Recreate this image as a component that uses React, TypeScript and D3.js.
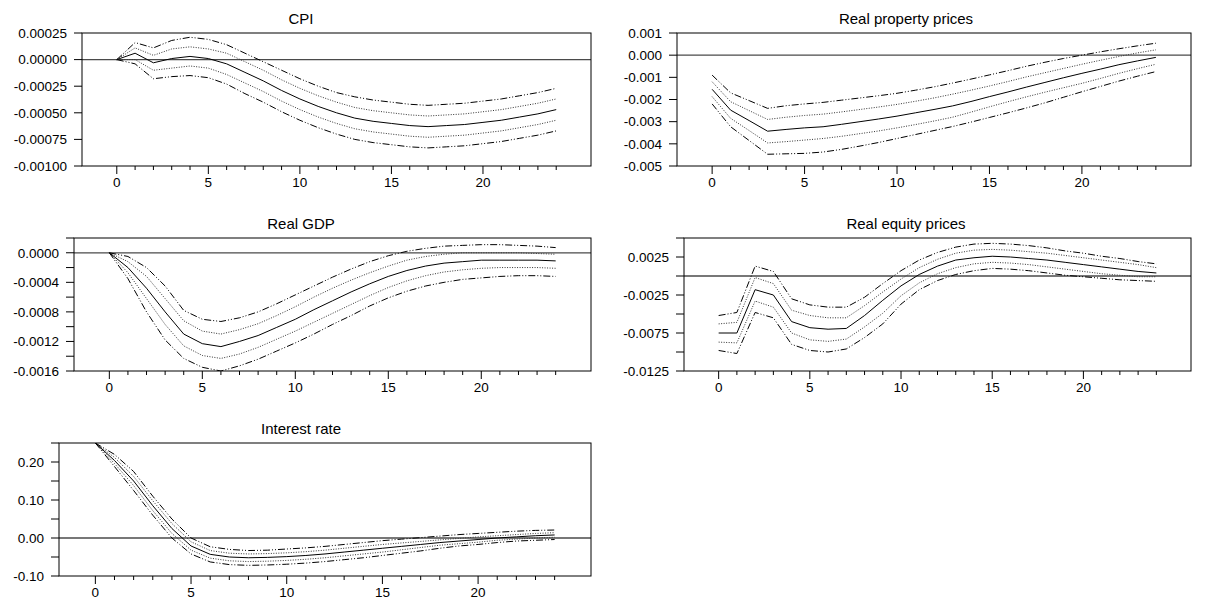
import React from "react";
import * as d3 from "d3";

const horizons = [0, 1, 2, 3, 4, 5, 6, 7, 8, 9, 10, 11, 12, 13, 14, 15, 16, 17, 18, 19, 20, 21, 22, 23, 24];
const xMajorTicks = [0, 5, 10, 15, 20];
const xMinorTicks = [0, 1, 2, 3, 4, 5, 6, 7, 8, 9, 10, 11, 12, 13, 14, 15, 16, 17, 18, 19, 20, 21, 22, 23, 24];

// CPI
const cpiMid = [0, 0.00006, -0.00003, 0.00001, 0.00003, 0.00001, -0.00004, -0.00012, -0.0002, -0.00029, -0.00037, -0.00044, -0.0005, -0.00055, -0.00058, -0.0006, -0.00062, -0.00063, -0.00062, -0.00061, -0.00059, -0.00057, -0.00054, -0.00051, -0.00047];
const cpiDotHi = [0, 0.00011, 0.00004, 0.0001, 0.00012, 0.0001, 0.00006, -0.00002, -0.0001, -0.00019, -0.00027, -0.00034, -0.0004, -0.00045, -0.00048, -0.0005, -0.00052, -0.00053, -0.00052, -0.00051, -0.00049, -0.00047, -0.00044, -0.00041, -0.00037];
const cpiDotLo = [0, 0.0, -0.0001, -0.00008, -0.00006, -0.00008, -0.00014, -0.00022, -0.0003, -0.00039, -0.00047, -0.00054, -0.0006, -0.00065, -0.00068, -0.0007, -0.00072, -0.00073, -0.00072, -0.00071, -0.00069, -0.00067, -0.00064, -0.00061, -0.00057];
const cpiDashHi = [0, 0.00016, 0.00011, 0.00018, 0.00021, 0.00019, 0.00014, 0.00006, -0.00002, -0.0001, -0.00018, -0.00025, -0.00031, -0.00035, -0.00038, -0.0004, -0.00042, -0.00043, -0.00042, -0.00041, -0.00039, -0.00037, -0.00034, -0.00031, -0.00027];
const cpiDashLo = [0, -0.00004, -0.00018, -0.00016, -0.00015, -0.00017, -0.00023, -0.00032, -0.0004, -0.00049, -0.00057, -0.00064, -0.0007, -0.00075, -0.00078, -0.0008, -0.00082, -0.00083, -0.00082, -0.00081, -0.00079, -0.00077, -0.00074, -0.00071, -0.00067];

// Real property prices
const propMid = [-0.00154, -0.00248, -0.00295, -0.00343, -0.00335, -0.00328, -0.00323, -0.00312, -0.003, -0.00288, -0.00275, -0.0026, -0.00245, -0.00229, -0.00209, -0.00187, -0.00166, -0.00144, -0.00123, -0.00102, -0.00082, -0.00063, -0.00043, -0.00026, -0.0001];
const propDotHi = [-0.0012, -0.0021, -0.0025, -0.0029, -0.0028, -0.00272, -0.00266, -0.00256, -0.00245, -0.00234, -0.00222, -0.00208, -0.00193, -0.00176, -0.00158, -0.00139, -0.00119, -0.00098, -0.00079, -0.0006, -0.00041, -0.00023, -0.00006, 0.0001, 0.00024];
const propDotLo = [-0.00187, -0.00285, -0.0034, -0.00396, -0.0039, -0.00383, -0.00376, -0.00366, -0.00354, -0.00342, -0.00328, -0.00313, -0.00297, -0.0028, -0.00257, -0.00233, -0.0021, -0.00188, -0.00167, -0.00147, -0.00127, -0.00105, -0.00082, -0.00061, -0.00041];
const propDashHi = [-0.0009, -0.0017, -0.00205, -0.0024, -0.00228, -0.0022, -0.00213, -0.00203, -0.00193, -0.00183, -0.00172, -0.00158, -0.00143, -0.00126, -0.00108, -0.00089, -0.0007, -0.0005, -0.00032, -0.00015, 0.0, 0.00015, 0.00029, 0.00042, 0.00054];
const propDashLo = [-0.0022, -0.00323, -0.00385, -0.00447, -0.00445, -0.00443, -0.00437, -0.00425, -0.0041, -0.00394, -0.00376, -0.00358, -0.0034, -0.00322, -0.00302, -0.00281, -0.0026, -0.00238, -0.00215, -0.0019, -0.00165, -0.00141, -0.00117, -0.00095, -0.00074];

// Real GDP
const gdpMid = [0, -0.0002, -0.00048, -0.0008, -0.0011, -0.00123, -0.00127, -0.0012, -0.00112, -0.00101, -0.0009, -0.00077, -0.00065, -0.00053, -0.00042, -0.00032, -0.00024, -0.00018, -0.00014, -0.00012, -0.0001, -0.0001, -0.0001, -0.0001, -0.00011];
const gdpDotHi = [0, -0.00012, -0.00032, -0.00062, -0.00092, -0.00106, -0.0011, -0.00104, -0.00096, -0.00085, -0.00073, -0.0006, -0.00048, -0.00037, -0.00027, -0.00018, -0.0001, -0.00005, -0.00002, 0.0, 0.0, 0.0, 0.0, -0.00001, -0.00002];
const gdpDotLo = [0, -0.00027, -0.00062, -0.00097, -0.00126, -0.00139, -0.00143, -0.00137, -0.00128, -0.00117, -0.00106, -0.00094, -0.00082, -0.0007, -0.00058, -0.00047, -0.00038, -0.00031, -0.00026, -0.00023, -0.00021, -0.0002, -0.0002, -0.0002, -0.00021];
const gdpDashHi = [0, -0.00005, -0.0002, -0.00045, -0.00078, -0.0009, -0.00093, -0.00088, -0.0008, -0.00069, -0.00057, -0.00045, -0.00033, -0.00022, -0.00012, -0.00004, 0.00002, 0.00006, 0.00009, 0.0001, 0.00011, 0.00011, 0.0001, 0.00009, 0.00007];
const gdpDashLo = [0, -0.00035, -0.0008, -0.00118, -0.00143, -0.00155, -0.0016, -0.00153, -0.00144, -0.00133, -0.00122, -0.0011, -0.00097, -0.00085, -0.00072, -0.00061, -0.00052, -0.00045, -0.0004, -0.00036, -0.00034, -0.00032, -0.00031, -0.00031, -0.00032];

// Real equity prices
const eqMid = [-0.0075, -0.0075, -0.0018, -0.0025, -0.006, -0.0068, -0.007, -0.0069, -0.0052, -0.0032, -0.0013, 0.0002, 0.0013, 0.0021, 0.0024, 0.0026, 0.0025, 0.0023, 0.0021, 0.0018, 0.0015, 0.0012, 0.0009, 0.0006, 0.0004];
const eqDotHi = [-0.0063, -0.0061, -0.0002, -0.001, -0.0045, -0.0052, -0.0055, -0.0055, -0.0039, -0.0021, -0.0004, 0.0011, 0.0022, 0.003, 0.0034, 0.0035, 0.0034, 0.0032, 0.003, 0.0027, 0.0024, 0.0021, 0.0018, 0.0015, 0.0011];
const eqDotLo = [-0.0087, -0.0088, -0.0033, -0.0041, -0.0075, -0.0084, -0.0086, -0.0083, -0.0067, -0.0049, -0.0026, -0.0009, 0.0003, 0.0011, 0.0016, 0.0018, 0.0017, 0.0015, 0.0012, 0.0009, 0.0006, 0.0003, 0.0001, -0.0001, -0.0001];
const eqDashHi = [-0.0052, -0.0048, 0.0013, 0.0006, -0.003, -0.0038, -0.0041, -0.0041, -0.0028, -0.001, 0.0007, 0.0021, 0.0031, 0.0038, 0.0042, 0.0043, 0.0042, 0.004, 0.0037, 0.0033, 0.003, 0.0026, 0.0023, 0.0019, 0.0016];
const eqDashLo = [-0.0098, -0.0102, -0.0048, -0.0055, -0.009, -0.0098, -0.01, -0.0096, -0.0081, -0.0063, -0.0037, -0.0018, -0.0006, 0.0002, 0.0007, 0.001, 0.0009, 0.0007, 0.0004, 0.0001, -0.0001, -0.0003, -0.0005, -0.0006, -0.0007];

// Interest rate
const irMid = [0.25, 0.204, 0.15, 0.085, 0.025, -0.021, -0.043, -0.05, -0.052, -0.051, -0.049, -0.046, -0.042, -0.037, -0.032, -0.027, -0.022, -0.017, -0.012, -0.008, -0.004, 0.0, 0.003, 0.006, 0.008];
const irDotHi = [0.25, 0.212, 0.162, 0.098, 0.038, -0.01, -0.033, -0.04, -0.042, -0.041, -0.039, -0.036, -0.032, -0.027, -0.022, -0.017, -0.013, -0.009, -0.005, -0.001, 0.003, 0.006, 0.009, 0.012, 0.014];
const irDotLo = [0.25, 0.196, 0.138, 0.072, 0.012, -0.032, -0.053, -0.06, -0.062, -0.061, -0.059, -0.056, -0.052, -0.047, -0.042, -0.037, -0.031, -0.025, -0.019, -0.015, -0.011, -0.006, -0.003, 0.0, 0.002];
const irDashHi = [0.25, 0.22, 0.175, 0.11, 0.05, 0.0, -0.023, -0.03, -0.033, -0.032, -0.029, -0.026, -0.022, -0.017, -0.012, -0.007, -0.003, 0.001, 0.005, 0.009, 0.012, 0.015, 0.018, 0.02, 0.021];
const irDashLo = [0.25, 0.188, 0.125, 0.06, 0.0, -0.042, -0.063, -0.07, -0.072, -0.071, -0.069, -0.066, -0.062, -0.057, -0.052, -0.046, -0.04, -0.034, -0.027, -0.021, -0.017, -0.012, -0.008, -0.006, -0.004];

// Y axis ticks
const cpiTicks = [-0.001, -0.00075, -0.0005, -0.00025, 0, 0.00025];
const cpiLabels = [-0.001, -0.00075, -0.0005, -0.00025, 0, 0.00025];
const propTicks = [-0.005, -0.004, -0.003, -0.002, -0.001, 0, 0.001];
const propLabels = [-0.005, -0.004, -0.003, -0.002, -0.001, 0, 0.001];
const gdpTicks = [-0.0016, -0.0014, -0.0012, -0.001, -0.0008, -0.0006, -0.0004, -0.0002, 0, 0.0002];
const gdpLabels = [-0.0016, -0.0012, -0.0008, -0.0004, 0];
const eqTicks = [-0.0125, -0.01, -0.0075, -0.005, -0.0025, 0, 0.0025, 0.005];
const eqLabels = [-0.0125, -0.0075, -0.0025, 0.0025];
const irTicks = [-0.1, -0.05, 0, 0.05, 0.1, 0.15, 0.2, 0.25];
const irLabels = [-0.1, 0, 0.1, 0.2];

const FONT = "'Liberation Sans', Arial, sans-serif";

type Panel = {
  title: string;
  series: number[][]; // mid, dotHi, dotLo, dashHi, dashLo
  yDomain: [number, number];
  ticks: number[];
  labels: number[];
  decimals: number;
  left: number;
  right: number;
  top: number;
  height: number;
  titleX: number;
};

const panels: Panel[] = [
  { title: "CPI", series: [cpiMid, cpiDotHi, cpiDotLo, cpiDashHi, cpiDashLo], yDomain: [-0.001, 0.00025], ticks: cpiTicks, labels: cpiLabels, decimals: 5, left: 82, right: 591, top: 33, height: 133, titleX: 301 },
  { title: "Real property prices", series: [propMid, propDotHi, propDotLo, propDashHi, propDashLo], yDomain: [-0.005, 0.001], ticks: propTicks, labels: propLabels, decimals: 3, left: 677, right: 1191, top: 33, height: 133, titleX: 906 },
  { title: "Real GDP", series: [gdpMid, gdpDotHi, gdpDotLo, gdpDashHi, gdpDashLo], yDomain: [-0.0016, 0.0002], ticks: gdpTicks, labels: gdpLabels, decimals: 4, left: 74, right: 591, top: 238, height: 133, titleX: 301 },
  { title: "Real equity prices", series: [eqMid, eqDotHi, eqDotLo, eqDashHi, eqDashLo], yDomain: [-0.0125, 0.005], ticks: eqTicks, labels: eqLabels, decimals: 4, left: 684, right: 1191, top: 238, height: 133, titleX: 906 },
  { title: "Interest rate", series: [irMid, irDotHi, irDotLo, irDashHi, irDashLo], yDomain: [-0.1, 0.25], ticks: irTicks, labels: irLabels, decimals: 2, left: 59, right: 591, top: 443, height: 133, titleX: 301 },
];

const styles = [
  { stroke: "#000", dash: "none", width: 1 },
  { stroke: "#333", dash: "1,1.5", width: 1 },
  { stroke: "#333", dash: "1,1.5", width: 1 },
  { stroke: "#000", dash: "7,2,1,2,1,2", width: 1 },
  { stroke: "#000", dash: "7,2,1,2,1,2", width: 1 },
];

function fmt(v: number, d: number) {
  const s = Math.abs(v) < 1e-12 ? (0).toFixed(d) : v.toFixed(d);
  return s;
}

function PanelView({ p, idx }: { p: Panel; idx: number }) {
  const bottom = p.top + p.height;
  const x = d3.scaleLinear().domain([-1.9, 25.9]).range([p.left, p.right]);
  const y = d3.scaleLinear().domain(p.yDomain).range([bottom, p.top]);
  const line = d3
    .line<number>()
    .x((_, i) => x(horizons[i]))
    .y((d) => y(d));
  const clipId = `clip${idx}`;
  return (
    <g>
      <defs>
        <clipPath id={clipId}>
          <rect x={p.left} y={p.top} width={p.right - p.left} height={p.height} />
        </clipPath>
      </defs>
      <text x={p.titleX} y={p.top - 9} textAnchor="middle" fontFamily={FONT} fontSize={15} fill="#000">
        {p.title}
      </text>
      {/* zero line */}
      <line x1={p.left} x2={p.right} y1={y(0)} y2={y(0)} stroke="#4a4a4a" strokeWidth={1.3} />
      <g clipPath={`url(#${clipId})`}>
        {p.series.map((s, i) => (
          <path
            key={i}
            d={line(s) || ""}
            fill="none"
            stroke={styles[i].stroke}
            strokeWidth={styles[i].width}
            strokeDasharray={styles[i].dash}
          />
        ))}
      </g>
      {/* frame */}
      <rect x={p.left} y={p.top} width={p.right - p.left} height={p.height} fill="none" stroke="#000" strokeWidth={1} />
      {/* y ticks */}
      {p.ticks.map((t) => (
        <line key={"yt" + t} x1={p.left - 8} x2={p.left} y1={y(t)} y2={y(t)} stroke="#000" strokeWidth={1} />
      ))}
      {p.labels.map((t) => (
        <text
          key={"yl" + t}
          x={p.left - 15}
          y={y(t)}
          dy="0.35em"
          textAnchor="end"
          fontFamily={FONT}
          fontSize={13.5}
          fill="#000"
        >
          {fmt(t, p.decimals)}
        </text>
      ))}
      {/* x ticks */}
      {xMinorTicks.map((t) => (
        <line
          key={"xm" + t}
          x1={x(t)}
          x2={x(t)}
          y1={bottom}
          y2={bottom + (xMajorTicks.includes(t) ? 8 : 4)}
          stroke="#000"
          strokeWidth={1}
        />
      ))}
      {xMajorTicks.map((t) => (
        <text
          key={"xl" + t}
          x={x(t)}
          y={bottom + 21}
          textAnchor="middle"
          fontFamily={FONT}
          fontSize={13.5}
          fill="#000"
        >
          {t}
        </text>
      ))}
    </g>
  );
}

export default function App() {
  return (
    <svg width={1210} height={603} style={{ position: "absolute", left: 0, top: 0, background: "#fff" }}>
      <rect x={0} y={0} width={1210} height={603} fill="#fff" />
      {panels.map((p, i) => (
        <PanelView key={p.title} p={p} idx={i} />
      ))}
    </svg>
  );
}
